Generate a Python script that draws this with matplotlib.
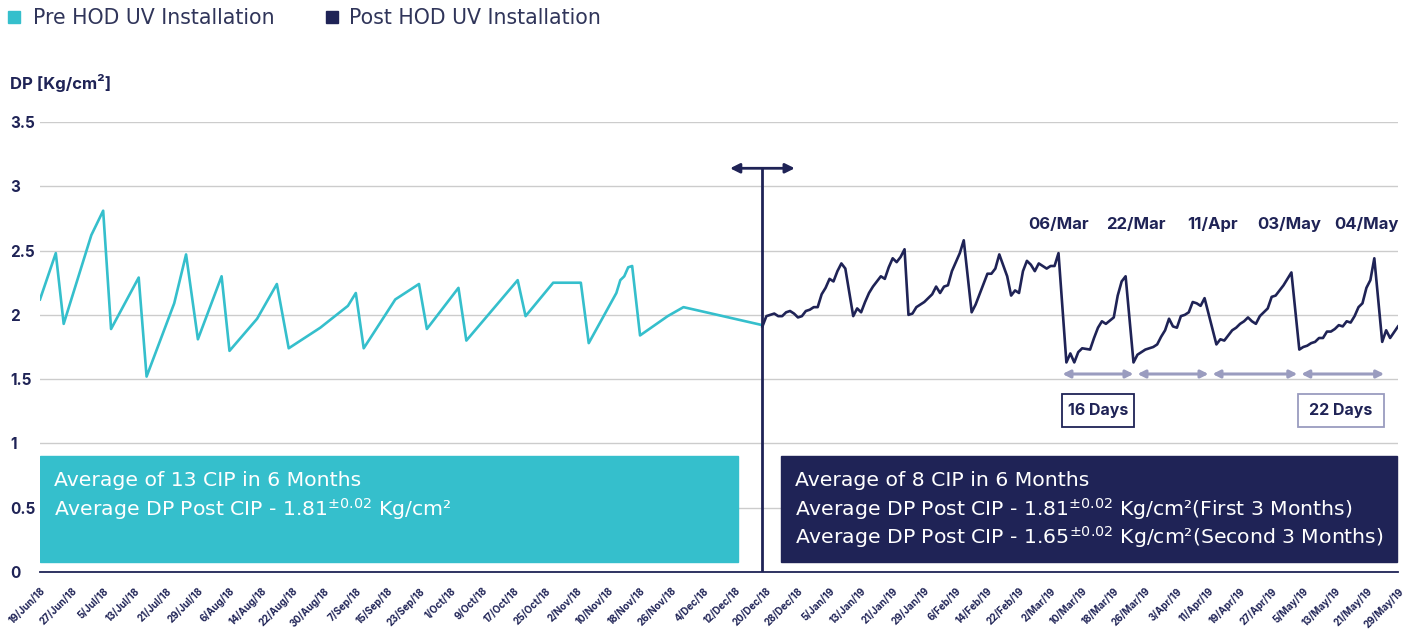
import numpy as np
import matplotlib
matplotlib.use("Agg")
import matplotlib.pyplot as plt
from matplotlib.patches import Rectangle
from datetime import date, timedelta

plt.rcParams['font.family'] = ['Inter', 'DejaVu Sans']
plt.rcParams['mathtext.fontset'] = 'dejavusans'

CYAN = '#35bfcc'
NAVY = '#1f2356'
LAVENDER = '#9a9cbf'
GRID = '#cccccc'
LEGEND_TXT = '#30355a'
WIDE = ['DejaVu Sans']

# x values are days counted from 19/Jun/18
start = date(2018, 6, 19)

pre_days = [0, 4, 6, 13, 16, 18, 25, 27, 34, 37, 40, 46, 48, 55, 60, 63, 71, 78, 80, 82,
            90, 96, 98, 106, 108, 121, 123, 130, 137, 139, 146, 147, 148, 149, 150, 152,
            159, 163, 183]
pre_dp = [2.12, 2.48, 1.93, 2.62, 2.81, 1.89, 2.29, 1.52, 2.09, 2.47, 1.81, 2.30, 1.72, 1.97,
          2.24, 1.74, 1.90, 2.07, 2.17, 1.74, 2.12, 2.24, 1.89, 2.21, 1.80, 2.27, 1.99, 2.25,
          2.25, 1.78, 2.17, 2.27, 2.30, 2.37, 2.38, 1.84, 1.99, 2.06, 1.92]

post_days = [183, 184, 186, 187, 188, 189, 190, 191, 192, 193, 194, 195, 196, 197, 198, 199,
             200, 201, 202, 203, 204, 206, 207, 208, 209, 210, 211, 212, 213, 214, 215, 216,
             217, 218, 219, 220, 221, 222, 223, 224, 225, 226, 227, 228, 229, 230, 231, 232,
             233, 234, 236, 237, 238, 240, 241, 242, 243, 245, 246, 247, 248, 249, 250, 251,
             252, 253, 254, 255, 256, 257, 258, 260, 261, 262, 263, 264, 266, 267, 268, 269,
             270, 272, 273, 274, 275, 277, 278, 279, 280, 282, 283, 284, 285, 286, 287, 288,
             289, 290, 291, 292, 293, 294, 295, 298, 299, 300, 301, 302, 303, 304, 305, 306,
             307, 308, 309, 310, 311, 312, 313, 314, 315, 316, 317, 319, 320, 321, 322, 323,
             324, 325, 326, 327, 328, 329, 330, 331, 332, 333, 334, 335, 336, 337, 338, 340,
             341, 342, 344]
post_dp = [1.91, 1.99, 2.01, 1.99, 1.99, 2.02, 2.03, 2.01, 1.98, 1.99, 2.03, 2.04, 2.06, 2.06,
           2.16, 2.21, 2.28, 2.26, 2.34, 2.40, 2.36, 1.99, 2.05, 2.02, 2.10, 2.17, 2.22, 2.26,
           2.30, 2.28, 2.37, 2.44, 2.41, 2.45, 2.51, 2.00, 2.01, 2.06, 2.08, 2.10, 2.13, 2.16,
           2.22, 2.17, 2.22, 2.23, 2.34, 2.41, 2.48, 2.58, 2.02, 2.08, 2.16, 2.32, 2.32, 2.36,
           2.47, 2.30, 2.15, 2.19, 2.17, 2.34, 2.42, 2.39, 2.34, 2.40, 2.38, 2.36, 2.38, 2.38,
           2.48, 1.63, 1.70, 1.63, 1.71, 1.74, 1.73, 1.82, 1.90, 1.95, 1.93, 1.98, 2.15, 2.26,
           2.30, 1.63, 1.69, 1.71, 1.73, 1.75, 1.77, 1.83, 1.88, 1.97, 1.91, 1.90, 1.99, 2.00,
           2.02, 2.10, 2.09, 2.07, 2.13, 1.77, 1.81, 1.80, 1.84, 1.88, 1.90, 1.93, 1.95, 1.98,
           1.95, 1.93, 1.99, 2.02, 2.05, 2.14, 2.15, 2.19, 2.23, 2.28, 2.33, 1.73, 1.75, 1.76,
           1.78, 1.79, 1.82, 1.82, 1.87, 1.87, 1.89, 1.92, 1.91, 1.95, 1.94, 1.99, 2.06, 2.09,
           2.21, 2.27, 2.44, 1.79, 1.88, 1.82, 1.91]

divider_day = 183
cip_labels = ['06/Mar', '22/Mar', '11/Apr', '03/May', '04/May']
cip_label_days = [258, 277.5, 297, 316.5, 336]
cycle_spans = [(259, 277), (278, 296), (297, 318.5), (319.5, 340.5)]
day_boxes = [('16 Days', 259, 277, NAVY), ('22 Days', 318.7, 340.5, LAVENDER)]

pre_summary = ['Average of 13 CIP in 6 Months',
               r'Average DP Post CIP - 1.81$^{\pm0.02}$ Kg/cm²']
post_summary = ['Average of 8 CIP in 6 Months',
                r'Average DP Post CIP - 1.81$^{\pm0.02}$ Kg/cm²(First 3 Months)',
                r'Average DP Post CIP - 1.65$^{\pm0.02}$ Kg/cm²(Second 3 Months)']

tick_days = np.arange(0, 345, 8)
tick_labels = []
for k in tick_days:
    d = start + timedelta(days=int(k))
    tick_labels.append(str(d.day) + '/' + d.strftime('%b/%y'))

fig = plt.figure(figsize=(14.15, 6.33), dpi=100)
ax = fig.add_axes([40/1415, 61/633, 1358/1415, 450/633])
ax.set_xlim(0, 344)
ax.set_ylim(0, 3.5)

ax.plot(pre_days, pre_dp, color=CYAN, lw=1.9, zorder=2)
ax.plot(post_days, post_dp, color=NAVY, lw=1.9, zorder=2)

# grid / axes
ax.set_yticks(np.arange(0, 3.6, 0.5))
ax.set_yticklabels(['0', '0.5', '1', '1.5', '2', '2.5', '3', '3.5'])
ax.grid(axis='y', color=GRID, lw=1)
ax.set_axisbelow(True)
for s in ['top', 'right', 'left']:
    ax.spines[s].set_visible(False)
ax.spines['bottom'].set_color(NAVY)
ax.spines['bottom'].set_linewidth(1.3)
ax.tick_params(axis='y', length=0, pad=21.6, labelsize=11, labelcolor=NAVY)
for lbl in ax.get_yticklabels():
    lbl.set_horizontalalignment('left')
    lbl.set_fontweight('bold')
ax.set_xticks(tick_days)
ax.set_xticklabels(tick_labels, rotation=45, ha='right', rotation_mode='anchor',
                   fontsize=7, fontweight='bold', color=NAVY)
ax.tick_params(axis='x', length=0, pad=10)

fig.text(10/1415, 1 - 83/633, 'DP [Kg/cm²]', fontsize=12, fontweight='bold',
         color=NAVY, ha='left', va='center')

# legend
fig.add_artist(Rectangle((8/1415, 1 - 23/633), 12/1415, 12/633, color=CYAN,
                         transform=fig.transFigure))
fig.text(33/1415, 1 - 17.5/633, 'Pre HOD UV Installation', fontsize=14.8,
         color=LEGEND_TXT, va='center', family=WIDE)
fig.add_artist(Rectangle((326/1415, 1 - 23/633), 12/1415, 12/633, color=NAVY,
                         transform=fig.transFigure))
fig.text(349/1415, 1 - 17.5/633, 'Post HOD UV Installation', fontsize=14.8,
         color=LEGEND_TXT, va='center', family=WIDE)

# divider with arrow
ax.plot([divider_day, divider_day], [0, 3.14], color=NAVY, lw=2, zorder=4)
ax.annotate('', xy=(191.2, 3.14), xytext=(174.8, 3.14),
            arrowprops=dict(arrowstyle='<|-|>', color=NAVY, lw=2,
                            mutation_scale=14, shrinkA=0, shrinkB=0))

# summary boxes
ax.add_patch(Rectangle((0, 0.078), 176.8, 0.824, color=CYAN, zorder=3))
ax.add_patch(Rectangle((187.7, 0.078), 156, 0.824, color=NAVY, zorder=3, clip_on=False))
for line, yv in zip(pre_summary, [0.708, 0.49]):
    ax.text(3.5, yv, line, color='white', fontsize=14.7, va='center', zorder=5,
            family=WIDE)
for line, yv in zip(post_summary, [0.708, 0.49, 0.272]):
    ax.text(191.2, yv, line, color='white', fontsize=14.7, va='center', zorder=5,
            family=WIDE)

# CIP dates and cycle arrows
for lab, dx in zip(cip_labels, cip_label_days):
    ax.text(dx, 2.70, lab, ha='center', va='center', fontsize=12, fontweight='bold',
            color=NAVY)
for a, b in cycle_spans:
    ax.annotate('', xy=(b, 1.54), xytext=(a, 1.54),
                arrowprops=dict(arrowstyle='<|-|>', color=LAVENDER, lw=2.2,
                                mutation_scale=11, shrinkA=0, shrinkB=0))
for lab, a, b, ec in day_boxes:
    ax.add_patch(Rectangle((a, 1.128), b - a, 0.257, fill=False, ec=ec, lw=1.3))
    ax.text((a + b) / 2, 1.256, lab, ha='center', va='center', fontsize=11.5,
            fontweight='bold', color=NAVY)

fig.savefig('out.png', dpi=100)
